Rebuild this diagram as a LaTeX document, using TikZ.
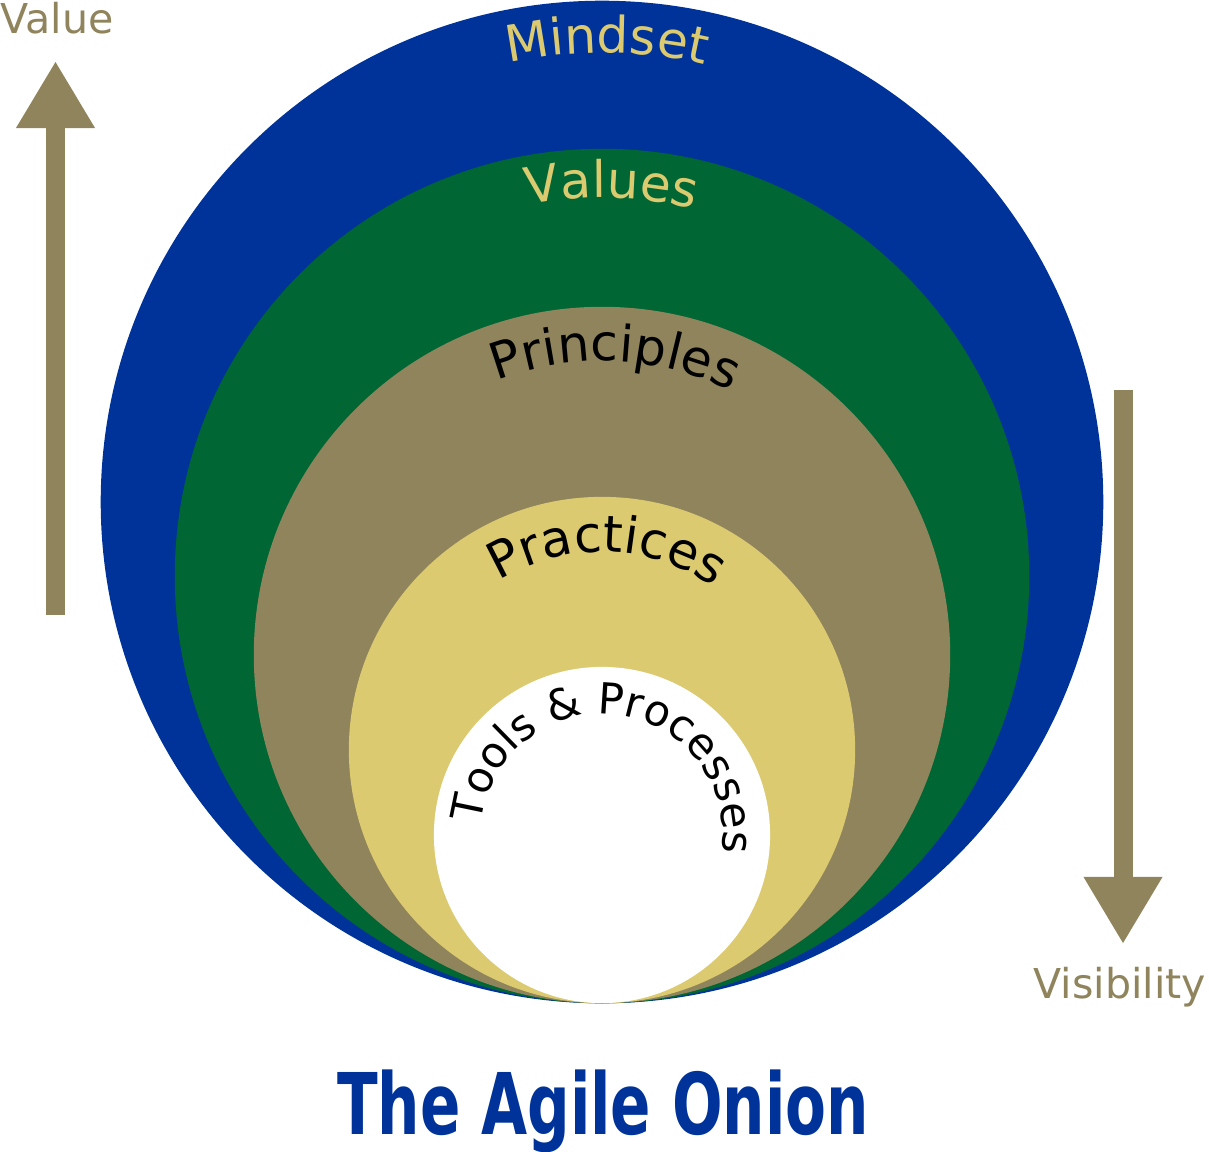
\documentclass[tikz,border=0pt]{standalone}
\usepackage{fontspec}
\setmainfont{DejaVu Sans}
\usetikzlibrary{arrows.meta,decorations.text}

\definecolor{onionblue}{RGB}{0,51,153}
\definecolor{oniongreen}{RGB}{0,102,51}
\definecolor{oniontan}{RGB}{143,132,92}
\definecolor{onionyellow}{RGB}{220,202,112}

\newcommand{\ringfont}{\fontsize{14.3pt}{17pt}\selectfont}
\newcommand{\corefont}{\fontsize{12.2pt}{14pt}\selectfont}

\begin{document}
\begin{tikzpicture}[
  x=0.01cm,y=0.01cm,
  rings/.style={circle,fill=#1,draw=none,inner sep=0pt},
  arctext/.style 2 args={decoration={text along path,text align=center,text={|#1|#2}},decorate},
  labels/.style={text=oniontan,font=\fontsize{11.7pt}{14pt}\selectfont,inner sep=0pt},
  pointer/.style={draw=oniontan,line width=0.19cm,-{Triangle[width=0.79cm,length=0.66cm,line width=0pt]}},
]
\useasboundingbox (0,0) rectangle (1209,-1152);

% the onion, outer ring first
\node (mindset) [rings=onionblue,minimum size=10.02cm] at (602,-502) {};
\node (values) [rings=oniongreen,minimum size=8.54cm] at (602,-576) {};
\node (principles) [rings=oniontan,minimum size=6.96cm] at (602,-655) {};
\node (practices) [rings=onionyellow,minimum size=5.06cm] at (602,-750) {};
\node (tools) [rings=white,minimum size=3.36cm] at (602,-835) {};

% ring names
\path[arctext={\ringfont\color{onionyellow}}{Mindset}] ([shift={(150:449)}]mindset.center) arc[start angle=150,end angle=28.8,radius=449];
\path[arctext={\ringfont\color{onionyellow}}{Values}] ([shift={(150:378)}]values.center) arc[start angle=150,end angle=27.2,radius=378];
\path[arctext={\ringfont\color{black}}{Principles}] ([shift={(150:294)}]principles.center) arc[start angle=150,end angle=25,radius=294];
\path[arctext={\ringfont\color{black}}{Practices}] ([shift={(150:198)}]practices.center) arc[start angle=150,end angle=27,radius=198];
\path[arctext={\corefont\color{black}}{Tools {\&} Processes}] ([shift={(210:121)}]tools.center) arc[start angle=210,end angle=-44,radius=121];

% side arrows
\coordinate (valuefoot) at (55.5,-615);
\coordinate (valuetip) at (55.5,-62);
\coordinate (visfoot) at (1123,-390);
\coordinate (vistip) at (1123,-943);
\draw[pointer] (valuefoot) -- (valuetip);
\draw[pointer] (visfoot) -- (vistip);

\node (value) [labels,anchor=base west] at (0,-34) {Value};
\node (visibility) [labels,anchor=base west] at (1033,-998) {Visibility};

\node (title) [anchor=base,text=onionblue,inner sep=0pt,xscale=0.70,font=\fontsize{24.2pt}{28pt}\selectfont\bfseries] at (603,-1134) {The Agile Onion};
\end{tikzpicture}
\end{document}
